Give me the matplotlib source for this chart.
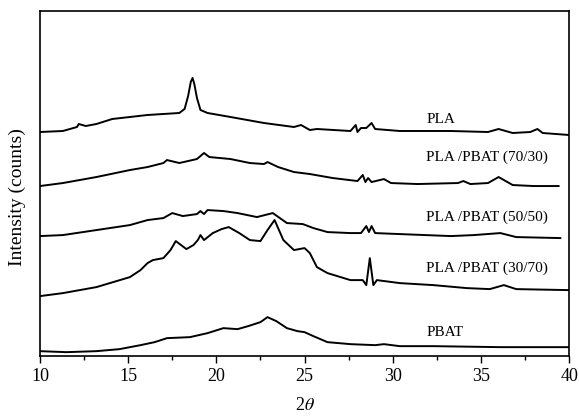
import matplotlib.pyplot as plt
from matplotlib.ticker import MultipleLocator

plt.rcParams['font.family'] = ['Liberation Serif', 'DejaVu Serif']
plt.rcParams['mathtext.fontset'] = 'stix'

# 2theta positions and stacked intensities (offset, arbitrary units)
pla_x = [10, 11.3, 12.1, 12.2, 12.6, 13.2, 14.1, 15.1, 16.1, 17.0, 17.9, 18.2, 18.4,
         18.55, 18.65, 18.75, 18.9, 19.1, 19.5, 20.8, 22.7, 24.4, 24.8, 25.3, 25.7,
         27.6, 27.9, 28.0, 28.2, 28.5, 28.8, 29.0, 30.4, 33.3, 35.4, 36.0, 36.8,
         37.8, 38.2, 38.5, 40]
pla_y = [224, 225, 229, 232, 230, 232, 237, 239, 241, 242, 243, 247, 260,
         274, 278, 272, 258, 246, 243, 239, 233, 229, 231, 226, 227,
         225, 231, 224, 228, 228, 233, 227, 225, 225, 224, 227, 223,
         224, 227, 223, 221]

b7030_x = [10, 11.3, 13.2, 15.1, 16.1, 17.0, 17.2, 17.9, 18.9, 19.3, 19.6, 20.8,
           21.9, 22.7, 22.9, 23.5, 24.4, 25.3, 26.6, 28.0, 28.3, 28.45, 28.6,
           28.8, 29.5, 29.9, 31.4, 33.7, 34.0, 34.4, 35.4, 36.0, 36.8, 38.0, 39.4]
b7030_y = [170, 173, 179, 186, 189, 193, 196, 193, 197, 203, 199, 197,
           193, 192, 194, 189, 184, 182, 178, 175, 181, 174, 178,
           174, 177, 173, 172, 173, 175, 172, 173, 179, 171, 170, 170]

b5050_x = [10, 11.3, 13.2, 15.1, 16.1, 17.0, 17.5, 18.1, 18.9, 19.1, 19.3, 19.5,
           20.4, 21.2, 22.3, 23.2, 24.0, 24.9, 25.5, 26.3, 27.6, 28.2, 28.5,
           28.65, 28.8, 29.0, 30.4, 33.3, 34.6, 36.1, 37.0, 39.5]
b5050_y = [120, 121, 126, 131, 136, 138, 143, 140, 142, 145, 142, 146,
           145, 143, 139, 143, 133, 132, 128, 124, 123, 123, 130,
           124, 130, 123, 122, 120, 121, 123, 119, 118]

b3070_x = [10, 11.3, 13.2, 15.1, 15.7, 16.1, 16.4, 17.0, 17.4, 17.7, 18.0, 18.3,
           18.7, 18.95, 19.1, 19.3, 19.8, 20.3, 20.7, 21.3, 21.9, 22.5, 22.9,
           23.3, 23.8, 24.4, 25.0, 25.3, 25.7, 26.3, 27.6, 28.3, 28.5, 28.7,
           28.9, 29.1, 30.4, 32.3, 34.2, 35.5, 36.3, 37.0, 40]
b3070_y = [60, 63, 69, 79, 86, 93, 96, 98, 106, 115, 111, 107,
           111, 116, 121, 116, 123, 127, 129, 123, 116, 115, 126,
           136, 116, 106, 108, 103, 89, 83, 76, 76, 71, 98,
           71, 76, 73, 71, 68, 67, 71, 67, 66]

pbat_x = [10, 11.5, 13.2, 14.5, 15.7, 16.5, 17.2, 18.5, 19.5, 20.4, 21.2, 21.8,
          22.5, 22.9, 23.4, 24.0, 24.6, 25.0, 25.5, 26.3, 27.6, 29.0, 29.5,
          30.4, 32.3, 36.1, 40]
pbat_y = [5, 4, 5, 7, 11, 14, 18, 19, 23, 28, 27, 30,
          34, 39, 35, 28, 25, 24, 20, 14, 12, 11, 12,
          10, 10, 9, 9]

names = ["PLA", "PLA /PBAT (70/30)", "PLA /PBAT (50/50)", "PLA /PBAT (30/70)", "PBAT"]
label_y = [236, 199, 139, 88, 24]

fig = plt.figure(figsize=(5.79, 4.2), dpi=100)
ax = fig.add_axes([0.069, 0.152, 0.914, 0.822])

for xs, ys in [(pla_x, pla_y), (b7030_x, b7030_y), (b5050_x, b5050_y),
               (b3070_x, b3070_y), (pbat_x, pbat_y)]:
    ax.plot(xs, ys, color='black', lw=1.4)

for name, yy in zip(names, label_y):
    ax.text(31.9, yy, name, fontsize=11, va='center', ha='left')

ax.set_xlim(10, 40)
ax.set_ylim(0, 345)
ax.xaxis.set_major_locator(MultipleLocator(5))
ax.xaxis.set_minor_locator(MultipleLocator(2.5))
ax.tick_params(axis='x', which='major', length=5, width=1, labelsize=13, direction='out')
ax.tick_params(axis='x', which='minor', length=3, width=1, direction='out')
ax.set_yticks([])
for s in ax.spines.values():
    s.set_linewidth(1.2)

ax.set_xlabel(r"2$\mathit{\theta}$", fontsize=13, labelpad=9)
ax.set_ylabel("Intensity (counts)", fontsize=14)
ax.yaxis.set_label_coords(-0.026, 0.46)

fig.savefig("out.png", dpi=100)
